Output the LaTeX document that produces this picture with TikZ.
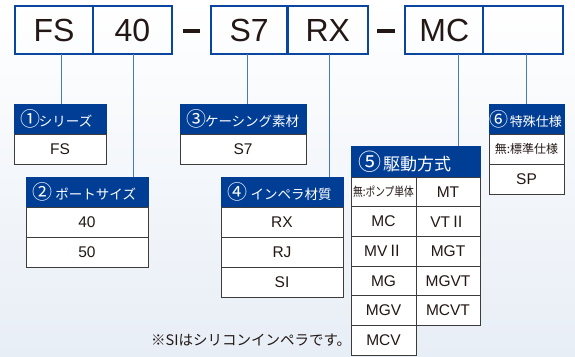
\documentclass[tikz,border=0pt]{standalone}
\usepackage{fontspec}
\usepackage{graphicx}
\setmainfont{Liberation Sans}
\newfontfamily\jp{Noto Sans CJK JP}
\newcommand\cnum[2]{{\fontsize{#1}{#1}\selectfont\kern-1.5pt #2\kern-1.5pt}}
\definecolor{hdrblue}{RGB}{0,62,150}
\definecolor{topblue}{RGB}{10,70,160}
\definecolor{linkblue}{RGB}{70,120,195}
\definecolor{cellline}{RGB}{60,60,60}
\definecolor{bgbottom}{RGB}{232,238,246}
\definecolor{ink}{RGB}{35,24,21}
\begin{document}
\begin{tikzpicture}[x=1pt,y=-1pt,
  topbox/.style={draw=topblue, line width=2.2pt, minimum height=47.6pt, inner sep=0pt, outer sep=0pt, text=ink, font=\fontsize{32}{32}\selectfont},
  hdr/.style={fill=hdrblue, draw=hdrblue, line width=0.8pt, anchor=north west, minimum height=30pt, inner xsep=8pt, inner ysep=0pt, outer sep=0pt, text=white, align=left, font=\jp\fontsize{13.5}{14}\selectfont},
  tcell/.style={fill=white, draw=cellline, line width=0.8pt, anchor=north west, minimum height=30pt, inner sep=0pt, outer sep=0pt, text=ink, font=\fontsize{15.5}{16}\selectfont},
  linkline/.style={draw=linkblue, line width=1pt}]
\fill[top color=white, bottom color=bgbottom] (0,0) rectangle (575,356);
\useasboundingbox (0,0) rectangle (575,356);

% top code boxes
\node[topbox, minimum width=77.8pt] (t1) at (54.1,30) {FS};
\node[topbox, minimum width=79pt] (t2) at (132.5,30) {40};
\node[topbox, minimum width=76.8pt] (t3) at (249.1,30) {S7};
\node[topbox, minimum width=80.5pt] (t4) at (327.75,30) {RX};
\node[topbox, minimum width=78pt] (t5) at (444.3,30) {MC};
\node[topbox, minimum width=79.7pt] (t6) at (523.15,30) {};
\fill[ink] (183,29.2) rectangle (200,32.6);
\fill[ink] (377,29.2) rectangle (395,32.6);

% 1 series
\node[hdr, text width=76pt] (h1) at (14,104) {\cnum{20}{①}シリーズ};
\node[tcell, minimum width=92pt] (c1) at (14,134) {FS};

% 2 port size
\node[hdr, text width=106pt] (h2) at (26,177) {\cnum{20}{②} ポートサイズ};
\node[tcell, minimum width=122pt] (c2a) at (26,207) {40};
\node[tcell, minimum width=122pt] (c2b) at (26,237) {50};

% 3 casing
\node[hdr, text width=110pt] (h3) at (180,104) {\cnum{20}{③}ケーシング素材};
\node[tcell, minimum width=126pt] (c3) at (180,134) {S7};

% 4 impeller
\node[hdr, text width=106pt] (h4) at (221,177) {\cnum{20}{④} インペラ材質};
\node[tcell, minimum width=122pt] (c4a) at (221,207) {RX};
\node[tcell, minimum width=122pt] (c4b) at (221,237) {RJ};
\node[tcell, minimum width=122pt] (c4c) at (221,267) {SI};

% 5 drive
\node[hdr, text width=111pt, minimum height=31pt, inner xsep=9pt, font=\jp\fontsize{17}{18}\selectfont] (h5) at (351,146) {\cnum{23}{⑤}\hspace{3pt}駆動方式};
\node[tcell, minimum width=65pt, minimum height=29.7pt] (c5a) at (351,177) {\jp\scalebox{0.78}[1]{\fontsize{12.5}{13}\selectfont 無:ポンプ単体}};
\node[tcell, minimum width=64pt, minimum height=29.7pt] (c5b) at (416,177) {MT};
\node[tcell, minimum width=65pt, minimum height=29.7pt] (c5c) at (351,206.7) {MC};
\node[tcell, minimum width=64pt, minimum height=29.7pt] (c5d) at (416,206.7) {VT{\jp Ⅱ}};
\node[tcell, minimum width=65pt, minimum height=29.7pt] (c5e) at (351,236.4) {MV{\jp Ⅱ}};
\node[tcell, minimum width=64pt, minimum height=29.7pt] (c5f) at (416,236.4) {MGT};
\node[tcell, minimum width=65pt, minimum height=29.7pt] (c5g) at (351,266.1) {MG};
\node[tcell, minimum width=64pt, minimum height=29.7pt] (c5h) at (416,266.1) {MGVT};
\node[tcell, minimum width=65pt, minimum height=29.7pt] (c5i) at (351,295.8) {MGV};
\node[tcell, minimum width=64pt, minimum height=29.7pt] (c5j) at (416,295.8) {MCVT};
\node[tcell, minimum width=65pt, minimum height=29.7pt] (c5k) at (351,325.5) {MCV};

% 6 special
\node[hdr, minimum width=75pt, inner xsep=0pt, font=\jp\fontsize{13}{14}\selectfont] (h6) at (489,104) {\cnum{19}{⑥} 特殊仕様};
\node[tcell, minimum width=75pt] (c6a) at (489,134) {\jp\fontsize{12}{12}\selectfont 無:標準仕様};
\node[tcell, minimum width=75pt] (c6b) at (489,164) {SP};

% connectors
\draw[linkline] (61,0 |- t1.south) -- (61,0 |- h1.north);
\draw[linkline] (133,0 |- t2.south) -- (133,0 |- h2.north);
\draw[linkline] (247,0 |- t3.south) -- (247,0 |- h3.north);
\draw[linkline] (329,0 |- t4.south) -- (329,0 |- h4.north);
\draw[linkline] (458,0 |- t5.south) -- (458,0 |- h5.north);
\draw[linkline] (526,0 |- t6.south) -- (526,0 |- h6.north);

% footnote
\node[anchor=west, inner sep=0pt, text=ink, font=\jp\fontsize{14.5}{15}\selectfont] (note) at (151,340) {※SIはシリコンインペラです。};
\end{tikzpicture}
\end{document}
